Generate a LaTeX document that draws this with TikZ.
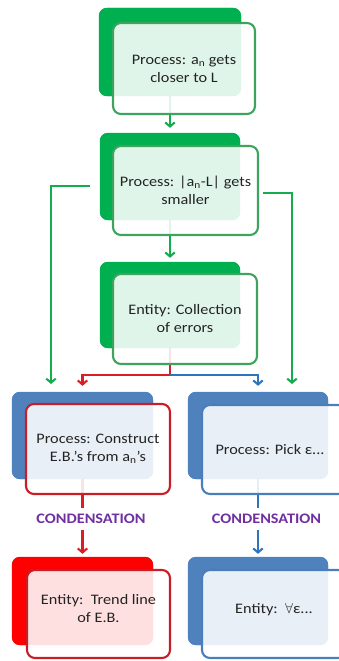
\documentclass[tikz,border=0pt]{standalone}
\usepackage{fontspec}
\setmainfont[FakeStretch=1.12]{Carlito}
\usetikzlibrary{arrows.meta}
\definecolor{gfill}{RGB}{0,176,80}
\definecolor{gedge}{RGB}{61,163,93}
\definecolor{gline}{RGB}{20,172,78}
\definecolor{bfill}{RGB}{79,129,189}
\definecolor{bedge}{RGB}{74,126,187}
\definecolor{bline}{RGB}{46,117,186}
\definecolor{rfill}{RGB}{255,0,0}
\definecolor{redge}{RGB}{200,30,40}
\definecolor{rline}{RGB}{220,30,35}
\definecolor{purp}{RGB}{112,48,160}
\definecolor{txt}{RGB}{35,35,35}
\tikzset{
  backbox/.style={rectangle, rounded corners=8pt, draw=none, inner sep=0pt},
  frontbox/.style={rectangle, rounded corners=8pt, line width=2.1pt, fill=white,
     fill opacity=0.88, text opacity=1, inner sep=0pt, align=center, text=txt,
     font=\fontsize{14.5}{18}\selectfont},
  conn/.style={line width=2.1pt, -{Straight Barb[length=4pt,width=9.5pt]}},
  condlabel/.style={fill=white, inner xsep=1pt, inner ysep=6pt, text=purp,
     font=\fontsize{14.5}{18}\selectfont\bfseries},
}
\begin{document}
\begin{tikzpicture}[x=1pt,y=-1pt]
\useasboundingbox (0,0) rectangle (338,661);
% back boxes (nodes defined first for connectors)
\path
  node[backbox, fill=gfill, minimum width=142, minimum height=88] (b1) at (170,52) {}
  node[backbox, fill=gfill, minimum width=140, minimum height=87] (b2) at (170,176.5) {}
  node[backbox, fill=gfill, minimum width=140, minimum height=86] (b3) at (170,305) {}
  node[backbox, fill=bfill, minimum width=141, minimum height=87] (b4) at (82.5,435.5) {}
  node[backbox, fill=bfill, minimum width=140, minimum height=87] (b5) at (258,435.5) {}
  node[backbox, fill=rfill, minimum width=141, minimum height=88] (b6) at (82.5,601) {}
  node[backbox, fill=bfill, minimum width=140, minimum height=88] (b7) at (258,601) {};
% connectors
\coordinate (L0) at (90,186);
\coordinate (L1) at (51,384);
\coordinate (R0) at (263,193);
\coordinate (R1) at (292,384);
\coordinate (J) at (170,375);
\draw[conn, draw=gline, shorten >=5pt] (b1.south) -- (b2.north);
\draw[conn, draw=gline, shorten >=4pt] (b2.south) -- (b3.north);
\draw[conn, draw=gline] (L0) -| (L1);
\draw[conn, draw=gline] (R0) -| (R1);
\draw[line width=2.1pt, draw=rline] (b3.south) -- (J);
\draw[conn, draw=rline, shorten >=6pt] (J) -| (b4.north);
\draw[conn, draw=bline, shorten >=6pt] (J) -| (b5.north);
\draw[conn, draw=rline, shorten >=3pt] (b4.south) -- (b6.north);
\draw[conn, draw=bline, shorten >=3pt] (b5.south) -- (b7.north);
% back boxes drawn over connector ends
\foreach \b/\c in {b1/gfill,b2/gfill,b3/gfill,b4/bfill,b5/bfill,b6/rfill,b7/bfill}{
  \fill[\c, rounded corners=8pt] (\b.north west) rectangle (\b.south east);
}
% front boxes
\node[frontbox, draw=gedge, minimum width=142, minimum height=91] (f1) at (184,68.5)
  {Process: a\textsubscript{n} gets\\closer to L};
\node[frontbox, draw=gedge, minimum width=145, minimum height=89] (f2) at (185.5,190.5)
  {Process: |a\textsubscript{n}-L| gets\\smaller};
\node[frontbox, draw=gedge, minimum width=144, minimum height=90] (f3) at (185,319)
  {Entity: Collection\\of errors};
\node[frontbox, draw=redge, minimum width=144, minimum height=90] (f4) at (98,449)
  {Process: Construct\\E.B.'s from a\textsubscript{n}'s};
\node[frontbox, draw=bedge, minimum width=144, minimum height=89] (f5) at (274,449.5)
  {\hspace*{-8pt}Process: Pick ε...};
\node[frontbox, draw=redge, minimum width=143, minimum height=88] (f6) at (98.5,614)
  {Entity:\ \ Trend line\\of E.B.\\[-12pt]\strut};
\node[frontbox, draw=bedge, minimum width=144, minimum height=88] (f7) at (274,614)
  {Entity:\ \ $\forall$ε...\\[-12pt]\strut};
% condensation labels
\node[condlabel] (k1) at (91,519) {CONDENSATION};
\node[condlabel] (k2) at (266.5,519) {CONDENSATION};
\end{tikzpicture}
\end{document}
